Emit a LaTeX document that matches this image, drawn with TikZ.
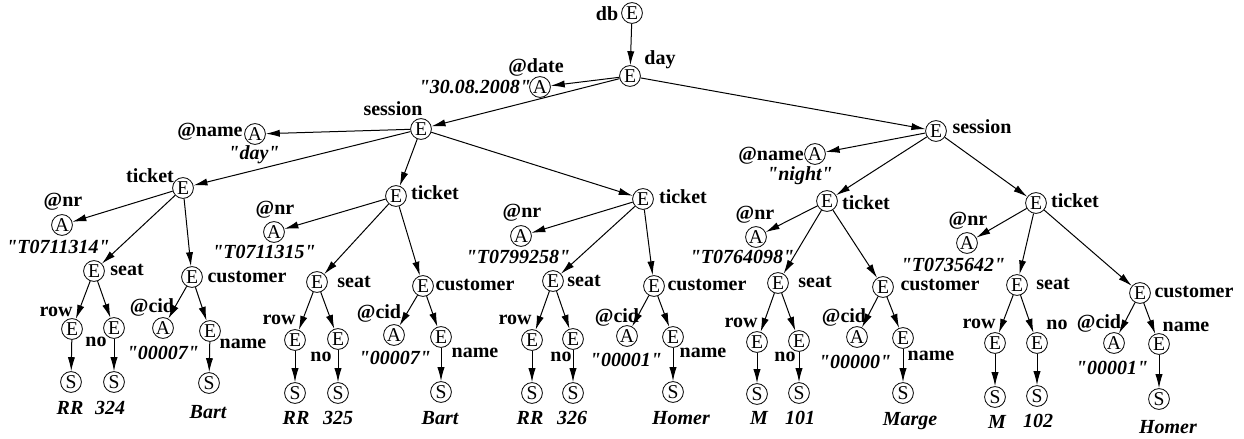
\documentclass[tikz,border=0pt]{standalone}
\usepackage{fontspec}
\setmainfont{Liberation Serif}[Ligatures=TeXOff]
\usetikzlibrary{arrows.meta}

\newcommand{\qt}[1]{"#1"}

\tikzset{
  elem/.style={circle,draw,inner sep=0pt,minimum size=10.4pt},
  lab/.style={inner sep=0pt,font=\bfseries},
  val/.style={inner sep=0pt,font=\bfseries\itshape},
  arr/.style={-{Latex[length=7pt,width=3.6pt]},line width=0.5pt}
}

\begin{document}
\begin{tikzpicture}[x=0.5pt,y=-0.5pt,font=\fontsize{9.8}{11}\selectfont]
  \useasboundingbox (0,0) rectangle (1244,439);
  % root and day
  \node[elem] (db) at (632,13) {E};
  \node[lab] (ldb) at (607,14) {db};
  \node[elem] (day) at (630,76) {E};
  \node[lab] (lday) at (660,60) {day};
  \node[elem] (date) at (540,87) {A};
  \node[lab] (ldate) at (536,67) {@date};
  \node[val] (vdate) at (475,87) {\qt{30.08.2008}};
  % left session
  \node[elem] (sesL) at (421,129) {E};
  \node[lab] (lsesL) at (393,109) {session};
  \node[elem] (nameL) at (255,134) {A};
  \node[lab] (lnameL) at (210,132) {@name};
  \node[val] (vnameL) at (254,155) {\qt{day}};
  % ticket 1
  \node[elem] (t1) at (183,188) {E};
  \node[lab] (lt1) at (150,176) {ticket};
  \node[elem] (nr1) at (62,225) {A};
  \node[lab] (lnr1) at (63,202) {@nr};
  \node[val] (vnr1) at (58,247) {\qt{T0711314}};
  \node[elem] (seat1) at (94,271) {E};
  \node[lab] (lseat1) at (127,270) {seat};
  \node[elem] (cust1) at (192,277) {E};
  \node[lab] (lcust1) at (247,277) {customer};
  \node[elem] (row1) at (72,329) {E};
  \node[lab] (lrow1) at (56,312) {row};
  \node[elem] (no1) at (114,328) {E};
  \node[lab] (lno1) at (96,342) {no};
  \node[elem] (s11) at (71,382) {S};
  \node[val] (v11) at (70,408) {RR};
  \node[elem] (s12) at (114,382) {S};
  \node[val] (v12) at (110,408) {324};
  \node[elem] (cid1) at (163,328) {A};
  \node[lab] (lcid1) at (152,307) {@cid};
  \node[val] (vcid1) at (163,353) {\qt{00007}};
  \node[elem] (nm1) at (210,331) {E};
  \node[lab] (lnm1) at (243,344) {name};
  \node[elem] (s13) at (209,383) {S};
  \node[val] (v13) at (208,412) {Bart};
  % ticket 2
  \node[elem] (t2) at (396,196) {E};
  \node[lab] (lt2) at (435,193) {ticket};
  \node[elem] (nr2) at (274,232) {A};
  \node[lab] (lnr2) at (275,210) {@nr};
  \node[val] (vnr2) at (264,252) {\qt{T0711315}};
  \node[elem] (seat2) at (317,282) {E};
  \node[lab] (lseat2) at (354,282) {seat};
  \node[elem] (cust2) at (423,286) {E};
  \node[lab] (lcust2) at (475,285) {customer};
  \node[elem] (row2) at (295,340) {E};
  \node[lab] (lrow2) at (279,320) {row};
  \node[elem] (no2) at (338,339) {E};
  \node[lab] (lno2) at (321,357) {no};
  \node[elem] (s21) at (295,393) {S};
  \node[val] (v21) at (296,418) {RR};
  \node[elem] (s22) at (338,393) {S};
  \node[val] (v22) at (338,418) {325};
  \node[elem] (cid2) at (394,335) {A};
  \node[lab] (lcid2) at (379,313) {@cid};
  \node[val] (vcid2) at (395,358) {\qt{00007}};
  \node[elem] (nm2) at (441,337) {E};
  \node[lab] (lnm2) at (475,353) {name};
  \node[elem] (s23) at (441,392) {S};
  \node[val] (v23) at (440,418) {Bart};
  % ticket 3
  \node[elem] (t3) at (643,199) {E};
  \node[lab] (lt3) at (683,197) {ticket};
  \node[elem] (nr3) at (521,236) {A};
  \node[lab] (lnr3) at (522,213) {@nr};
  \node[val] (vnr3) at (518,257) {\qt{T0799258}};
  \node[elem] (seat3) at (553,281) {E};
  \node[lab] (lseat3) at (584,281) {seat};
  \node[elem] (cust3) at (654,286) {E};
  \node[lab] (lcust3) at (707,285) {customer};
  \node[elem] (row3) at (532,340) {E};
  \node[lab] (lrow3) at (515,320) {row};
  \node[elem] (no3) at (573,339) {E};
  \node[lab] (lno3) at (561,357) {no};
  \node[elem] (s31) at (532,393) {S};
  \node[val] (v31) at (530,418) {RR};
  \node[elem] (s32) at (573,393) {S};
  \node[val] (v32) at (572,418) {326};
  \node[elem] (cid3) at (627,336) {A};
  \node[lab] (lcid3) at (617,317) {@cid};
  \node[val] (vcid3) at (626,360) {\qt{00001}};
  \node[elem] (nm3) at (673,337) {E};
  \node[lab] (lnm3) at (703,353) {name};
  \node[elem] (s33) at (673,392) {S};
  \node[val] (v33) at (681,418) {Homer};
  % right session
  \node[elem] (sesR) at (936,131) {E};
  \node[lab] (lsesR) at (982,127) {session};
  \node[elem] (nameR) at (815,154) {A};
  \node[lab] (lnameR) at (771,156) {@name};
  \node[val] (vnameR) at (800,176) {\qt{night}};
  % ticket 4
  \node[elem] (t4) at (827,201) {E};
  \node[lab] (lt4) at (866,203) {ticket};
  \node[elem] (nr4) at (756,237) {A};
  \node[lab] (lnr4) at (755,215) {@nr};
  \node[val] (vnr4) at (742,257) {\qt{T0764098}};
  \node[elem] (seat4) at (778,283) {E};
  \node[lab] (lseat4) at (815,282) {seat};
  \node[elem] (cust4) at (883,287) {E};
  \node[lab] (lcust4) at (940,285) {customer};
  \node[elem] (row4) at (757,342) {E};
  \node[lab] (lrow4) at (741,323) {row};
  \node[elem] (no4) at (799,341) {E};
  \node[lab] (lno4) at (785,357) {no};
  \node[elem] (s41) at (757,394) {S};
  \node[val] (v41) at (759,418) {M};
  \node[elem] (s42) at (799,393) {S};
  \node[val] (v42) at (800,418) {101};
  \node[elem] (cid4) at (857,337) {A};
  \node[lab] (lcid4) at (844,317) {@cid};
  \node[val] (vcid4) at (855,362) {\qt{00000}};
  \node[elem] (nm4) at (903,338) {E};
  \node[lab] (lnm4) at (931,356) {name};
  \node[elem] (s43) at (903,393) {S};
  \node[val] (v43) at (910,421) {Marge};
  % ticket 5
  \node[elem] (t5) at (1036,203) {E};
  \node[lab] (lt5) at (1075,201) {ticket};
  \node[elem] (nr5) at (967,243) {A};
  \node[lab] (lnr5) at (968,221) {@nr};
  \node[val] (vnr5) at (953,265) {\qt{T0735642}};
  \node[elem] (seat5) at (1017,285) {E};
  \node[lab] (lseat5) at (1053,284) {seat};
  \node[elem] (cust5) at (1140,293) {E};
  \node[lab] (lcust5) at (1194,292) {customer};
  \node[elem] (row5) at (995,343) {E};
  \node[lab] (lrow5) at (979,324) {row};
  \node[elem] (no5) at (1037,343) {E};
  \node[lab] (lno5) at (1057,325) {no};
  \node[elem] (s51) at (995,397) {S};
  \node[val] (v51) at (997,422) {M};
  \node[elem] (s52) at (1037,396) {S};
  \node[val] (v52) at (1038,421) {102};
  \node[elem] (cid5) at (1114,343) {A};
  \node[lab] (lcid5) at (1099,323) {@cid};
  \node[val] (vcid5) at (1112,368) {\qt{00001}};
  \node[elem] (nm5) at (1159,344) {E};
  \node[lab] (lnm5) at (1186,327) {name};
  \node[elem] (s53) at (1159,399) {S};
  \node[val] (v53) at (1168,427) {Homer};
  % edges
  \draw[arr] (db) -- (day);
  \draw[arr] (day) -- (date);
  \draw[arr] (day) -- (sesL);
  \draw[arr] (day) -- (sesR);
  \draw[arr] (sesL) -- (nameL);
  \draw[arr] (sesL) -- (t1);
  \draw[arr] (sesL) -- (t2);
  \draw[arr] (sesL) -- (t3);
  \draw[arr] (sesR) -- (nameR);
  \draw[arr] (sesR) -- (t4);
  \draw[arr] (sesR) -- (t5);
  \foreach \i in {1,...,5} {
    \draw[arr] (t\i) -- (nr\i);
    \draw[arr] (t\i) -- (seat\i);
    \draw[arr] (t\i) -- (cust\i);
    \draw[arr] (seat\i) -- (row\i);
    \draw[arr] (seat\i) -- (no\i);
    \draw[arr] (cust\i) -- (cid\i);
    \draw[arr] (cust\i) -- (nm\i);
    \draw[arr] (row\i) -- (s\i1);
    \draw[arr] (no\i) -- (s\i2);
    \draw[arr] (nm\i) -- (s\i3);
  }
\end{tikzpicture}
\end{document}
